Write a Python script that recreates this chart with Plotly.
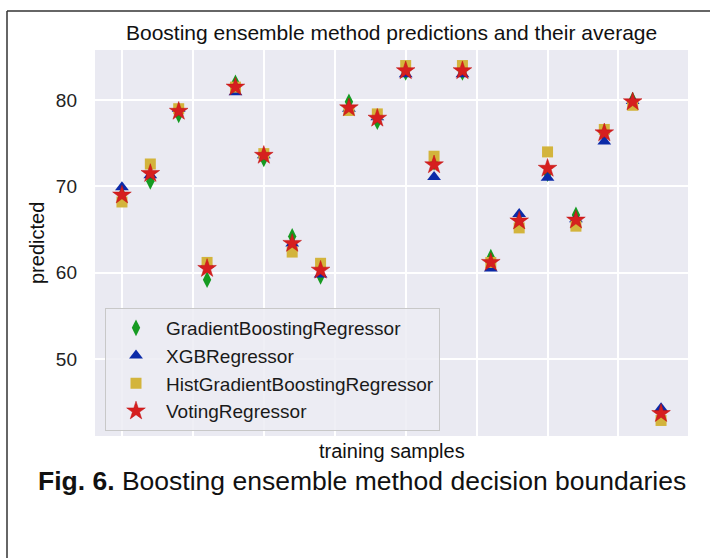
import plotly.graph_objects as go

samples = list(range(20))
gb_pred = [69.0, 70.6, 78.3, 59.2, 82.0, 73.2, 64.2, 59.6, 79.8, 77.5, 83.2, 72.8, 83.2, 61.8, 66.0, 71.5, 66.7, 76.0, 80.0, 43.9]
xgb_pred = [69.9, 71.3, 79.0, 61.0, 80.9, 73.6, 63.4, 59.8, 79.0, 78.0, 83.0, 71.1, 83.0, 60.5, 66.8, 71.0, 66.2, 75.2, 79.9, 44.3]
hist_pred = [68.2, 72.6, 79.0, 61.2, 81.5, 73.8, 62.4, 61.1, 78.8, 78.4, 84.0, 73.5, 84.0, 61.2, 65.2, 74.0, 65.4, 76.6, 79.4, 42.9]
voting_pred = [69.0, 71.5, 78.7, 60.5, 81.5, 73.6, 63.4, 60.3, 79.1, 77.9, 83.4, 72.5, 83.4, 61.2, 66.0, 72.1, 66.1, 76.2, 79.8, 43.7]

x_ticks = [0, 2.5, 5, 7.5, 10, 12.5, 15, 17.5]
y_ticks = [50, 60, 70, 80]

FONT = "Liberation Sans, Arial, Helvetica, sans-serif"

fig = go.Figure()
fig.add_trace(go.Scatter(x=samples, y=gb_pred, mode="markers", name="GradientBoostingRegressor",
                         marker=dict(symbol="diamond-tall", size=12, color="#169b22")))
fig.add_trace(go.Scatter(x=samples, y=xgb_pred, mode="markers", name="XGBRegressor",
                         marker=dict(symbol="triangle-up", size=12, color="#0b2aa8")))
fig.add_trace(go.Scatter(x=samples, y=hist_pred, mode="markers", name="HistGradientBoostingRegressor",
                         marker=dict(symbol="square", size=11, color="#d3b43c")))
fig.add_trace(go.Scatter(x=samples, y=voting_pred, mode="markers", name="VotingRegressor",
                         marker=dict(symbol="star", size=14, color="#d61f1f",
                                     line=dict(width=0.5, color="#c01010"))))

L, R, T, B = 95, 22, 50, 122
W, H = 710, 558
pw, ph = W - L - R, H - T - B

def px(xp):
    return (xp - L) / pw

def py(yp):
    return (H - B - yp) / ph

fig.update_layout(
    width=W, height=H,
    margin=dict(l=L, r=R, t=T, b=B, pad=0),
    paper_bgcolor="white",
    plot_bgcolor="#EAEAF2",
    font=dict(family=FONT, color="#222222"),
    showlegend=True,
    legend=dict(x=px(105), y=py(308), xanchor="left", yanchor="top",
                bgcolor="rgba(236,236,243,0.85)", bordercolor="#c8c8c8", borderwidth=1,
                font=dict(size=19, family=FONT, color="#1a1a1a"),
                itemwidth=50, tracegroupgap=0),
    xaxis=dict(range=[-0.95, 19.95], tickvals=x_ticks, showticklabels=False,
               showgrid=True, gridcolor="white", gridwidth=2, zeroline=False, showline=False),
    yaxis=dict(range=[41.1, 85.8], tickvals=y_ticks, ticktext=[str(v) for v in y_ticks],
               showgrid=True, gridcolor="white", gridwidth=2, zeroline=False, showline=False,
               tickfont=dict(size=19, family=FONT, color="#222222"), ticklabelstandoff=17),
)

annotations = [
    dict(text="Boosting ensemble method predictions and their average", x=0.5, y=py(32),
         xref="paper", yref="paper", xanchor="center", yanchor="middle", showarrow=False,
         font=dict(size=21, family=FONT, color="#111111")),
    dict(text="training samples", x=0.5, y=py(451), xref="paper", yref="paper",
         xanchor="center", yanchor="middle", showarrow=False,
         font=dict(size=20, family=FONT, color="#111111")),
    dict(text="predicted", x=px(37), y=py(243), xref="paper", yref="paper", textangle=-90,
         xanchor="center", yanchor="middle", showarrow=False,
         font=dict(size=20, family=FONT, color="#111111")),
    dict(text="<b>Fig. 6.</b> Boosting ensemble method decision boundaries", x=px(36), y=py(481),
         xref="paper", yref="paper", xanchor="left", yanchor="middle", showarrow=False,
         font=dict(size=26.5, family=FONT, color="#111111")),
]
fig.update_layout(annotations=annotations)

bx, by = px(7), py(11)
fig.add_shape(type="line", xref="paper", yref="paper", x0=bx, x1=bx, y0=py(H + 5), y1=by,
              line=dict(color="#333333", width=1.5))
fig.add_shape(type="line", xref="paper", yref="paper", x0=bx, x1=px(W + 5), y0=by, y1=by,
              line=dict(color="#333333", width=1.5))

fig.write_html("out.html")
